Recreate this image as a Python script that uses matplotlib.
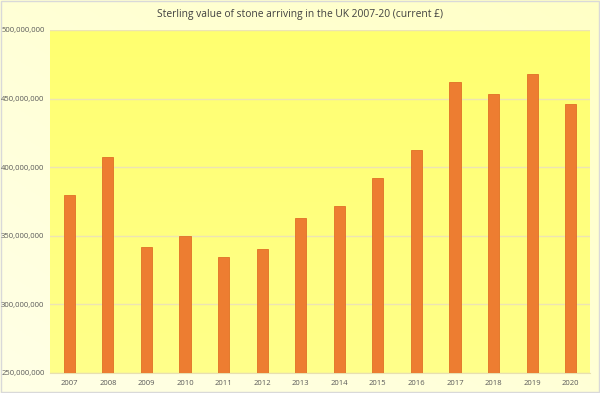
import matplotlib.pyplot as plt
import numpy as np
from matplotlib.ticker import FuncFormatter
from matplotlib.colors import LinearSegmentedColormap

years = ['2007', '2008', '2009', '2010', '2011', '2012', '2013',
         '2014', '2015', '2016', '2017', '2018', '2019', '2020']
values = [380.0, 407.2, 341.6, 349.6, 334.8, 340.4, 363.2,
          371.5, 391.9, 412.5, 462.3, 453.1, 468.1, 446.1]
values = [v * 1e6 for v in values]

plt.rcParams['font.family'] = ['Open Sans', 'DejaVu Sans']

fig = plt.figure(figsize=(6, 3.93), dpi=100)
fig.patch.set_facecolor('#FFFFD6')

# outer background gradient (very pale top-left to pale yellow)
bg = fig.add_axes([0, 0, 1, 1], zorder=-10)
g = np.linspace(0, 1, 256)
grad = np.add.outer(g[::-1], g) / 2
cm_out = LinearSegmentedColormap.from_list('o', ['#FFFFE6', '#FFFFC6'])
bg.imshow(grad, cmap=cm_out, aspect='auto', extent=[0, 1, 0, 1])
bg.set_axis_off()
bg.add_patch(plt.Rectangle((0.002, 0.003), 0.996, 0.994, fill=False,
                           edgecolor='#D9D9D9', lw=1, transform=bg.transAxes))

ax = fig.add_axes([50 / 600, 1 - 373 / 393, 540 / 600, 343 / 393])
# plot area: slightly lighter towards the bottom
cm_in = LinearSegmentedColormap.from_list('i', ['#FFFF8A', '#FFFF70'])
ax.imshow(np.linspace(0, 1, 256).reshape(-1, 1), cmap=cm_in, aspect='auto',
          extent=[0, 1, 0, 1], transform=ax.transAxes, zorder=0, origin='lower')

x = np.arange(len(years))
ax.bar(x, values, width=0.29, color='#ED7D31', edgecolor='#E07025',
       linewidth=0.6, zorder=3)

ax.set_xlim(-0.5, len(years) - 0.5)
ax.set_ylim(250e6, 500e6)
ax.set_yticks(np.arange(250e6, 500e6 + 1, 50e6))
ax.yaxis.set_major_formatter(FuncFormatter(lambda v, p: f'{int(v):,}'))
ax.set_xticks(x)
ax.set_xticklabels(years)

for s in ['top', 'right', 'left']:
    ax.spines[s].set_visible(False)
ax.spines['bottom'].set_color('#E8E0B0')
ax.grid(axis='y', color='#EDE4B4', lw=1, zorder=1)
ax.tick_params(length=0, labelsize=5.5, colors='#595959')
ax.tick_params(axis='x', pad=5)
ax.tick_params(axis='y', pad=4)

fig.text(0.5, 1 - 14 / 393, 'Sterling value of stone arriving in the UK 2007-20 (current \u00a3)',
         ha='center', va='center', fontsize=7.4, color='#404040')

fig.savefig('out.png', dpi=100, facecolor=fig.get_facecolor())
